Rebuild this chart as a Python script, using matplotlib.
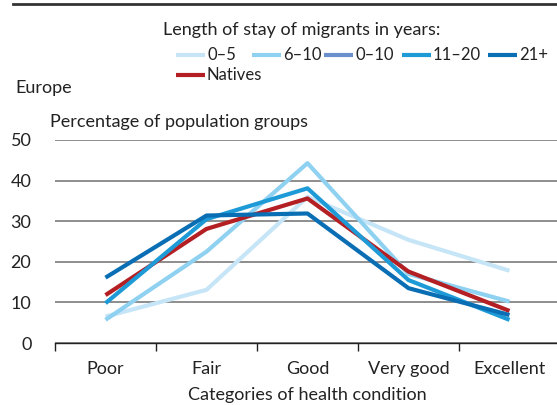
import matplotlib.pyplot as plt
from matplotlib.lines import Line2D

plt.rcParams['font.family'] = ['Lato', 'DejaVu Sans']

categories = ['Poor', 'Fair', 'Good', 'Very good', 'Excellent']
stay_0_5 = [6.5, 13.1, 36.0, 25.4, 17.8]
stay_6_10 = [5.7, 22.5, 44.3, 17.0, 10.2]
stay_11_20 = [9.8, 30.5, 38.1, 15.5, 5.7]
stay_21 = [16.1, 31.4, 31.9, 13.5, 6.9]
natives = [11.8, 28.1, 35.6, 17.6, 7.9]
yticks = [0, 10, 20, 30, 40, 50]

c05 = '#c6e5f7'
c610 = '#8fd1f1'
c010 = '#6b8fcc'
c1120 = '#1e9bd7'
c21 = '#0a6eb4'
cnat = '#b41f24'
txt = '#222222'
fs = 13

fig = plt.figure(figsize=(5.57, 4.05), dpi=100, facecolor='white')
ax = fig.add_axes([55/557, 62/405, 505/557, 203/405])

x = range(len(categories))
lw = 3
ax.plot(x, stay_0_5, color=c05, lw=lw, solid_capstyle='butt')
ax.plot(x, stay_6_10, color=c610, lw=lw, solid_capstyle='butt')
ax.plot(x, natives, color=cnat, lw=lw, solid_capstyle='butt')
ax.plot(x, stay_11_20, color=c1120, lw=lw, solid_capstyle='butt')
ax.plot(x, stay_21, color=c21, lw=lw, solid_capstyle='butt')

ax.set_xlim(-0.5, 4.5)
ax.set_ylim(0, 50)
ax.set_yticks(yticks)
ax.set_xticks(list(x))
ax.set_xticklabels(categories)
ax.set_xticks([i - 0.5 for i in range(6)], minor=True)
ax.tick_params(axis='x', which='major', length=0, pad=13, labelsize=fs, colors=txt)
ax.tick_params(axis='x', which='minor', length=6, width=1, color=txt)
ax.tick_params(axis='y', length=0, pad=17, labelsize=fs, colors=txt)
for s in ['top', 'right', 'left']:
    ax.spines[s].set_visible(False)
ax.spines['bottom'].set_color(txt)
ax.spines['bottom'].set_linewidth(1)
ax.yaxis.grid(True, color='#7a7a7a', lw=1.2)
ax.set_axisbelow(True)
ax.set_xlabel('Categories of health condition', fontsize=fs, color=txt, labelpad=7)

# top rule
fig.add_artist(Line2D([13/557, 1], [1 - 4/405, 1 - 4/405], color='#333333', lw=2))

fig.text(15/557, 1 - 88/405, 'Europe', fontsize=fs, color=txt, va='center')
fig.text(50/557, 1 - 122/405, 'Percentage of population groups', fontsize=fs,
         color=txt, va='center')
fig.text(163/557, 1 - 30/405, 'Length of stay of migrants in years:', fontsize=fs,
         color=txt, va='center')

# legend, laid out by hand (pixel positions of each entry)
leg_labels = ['0–5', '6–10', '0–10', '11–20', '21+', 'Natives']
leg_colors = [c05, c610, c010, c1120, c21, cnat]
leg_x = [176, 252, 324, 402, 488, 176]
leg_y = [55, 55, 55, 55, 55, 75]
for lab, col, lx, ly in zip(leg_labels, leg_colors, leg_x, leg_y):
    yy = 1 - ly/405
    fig.add_artist(Line2D([lx/557, (lx + 29)/557], [yy, yy], color=col, lw=3,
                          solid_capstyle='butt'))
    fig.text((lx + 31)/557, yy, lab, fontsize=12, color=txt, va='center')

fig.savefig('out.png', dpi=100)
